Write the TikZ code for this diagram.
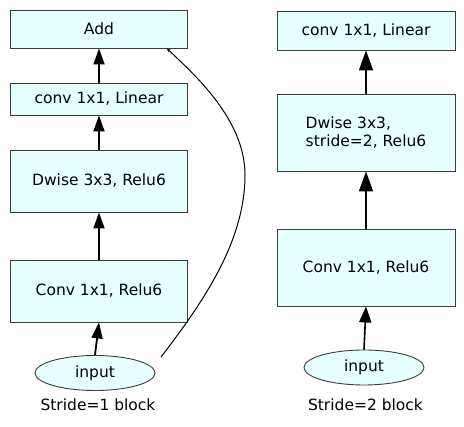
\documentclass[tikz,border=0pt]{standalone}
\usepackage{fontspec}
\setmainfont{DejaVu Sans}
\usetikzlibrary{arrows.meta,shapes.geometric}
\definecolor{boxfill}{RGB}{230,255,255}
\definecolor{boxline}{RGB}{60,60,60}
\tikzset{
  blk/.style={draw=boxline, line width=0.9pt, fill=boxfill, rectangle, inner sep=0pt,
    font=\fontsize{15.5}{18.5}\selectfont},
  inp/.style={draw=boxline, line width=0.9pt, fill=boxfill, ellipse, inner sep=0pt,
    minimum width=120pt, minimum height=35pt, font=\fontsize{15.5}{18.5}\selectfont},
  lbl/.style={anchor=base, inner sep=0pt, font=\fontsize{15.5}{18.5}\selectfont},
  arr/.style={line width=1.8pt, -{Triangle[length=16pt,width=11pt]}},
  arrbig/.style={line width=1.8pt, -{Triangle[length=20pt,width=14pt]}},
  arrmid/.style={line width=1.6pt, -{Triangle[length=16pt,width=12pt]}},
  skip/.style={line width=1pt, -{Stealth[length=4pt,width=3.5pt]}}
}
\begin{document}
\begin{tikzpicture}[x=1pt,y=-1pt]
\useasboundingbox (0,0) rectangle (464,427);
% left block
\node[blk, minimum width=177pt, minimum height=38pt] (add) at (99,29) {Add};
\node[blk, minimum width=177pt, minimum height=32pt] (linL) at (99,99) {conv 1x1, Linear};
\node[blk, minimum width=177pt, minimum height=62pt] (dwL) at (99,181) {Dwise 3x3, Relu6};
\node[blk, minimum width=177pt, minimum height=62pt] (convL) at (99,291) {Conv 1x1, Relu6};
\node[inp] (inL) at (95,373) {input};
\node[lbl] (capL) at (98,411) {Stride=1 block};
\draw[arr] (inL.north) -- (convL.south);
\draw[arr] (convL.north) -- (dwL.south);
\draw[arr] (dwL.north) -- (linL.south);
\draw[arr] (linL.north) -- (add.south);
\coordinate (s) at (161,357);
\coordinate (m) at (245,175);
\draw[skip] (s) .. controls (205,300) and (245,240) .. (m)
  .. controls (245,120) and (195,75) .. (add.-16.7);
% right block
\node[blk, minimum width=178pt, minimum height=39pt] (linR) at (366,30.5) {conv 1x1, Linear};
\node[blk, minimum width=178pt, minimum height=77pt, align=left] (dwR) at (366,132.5) {Dwise 3x3,\\stride=2, Relu6};
\node[blk, minimum width=178pt, minimum height=77pt] (convR) at (366,267.5) {Conv 1x1, Relu6};
\node[inp] (inR) at (364,367.5) {input};
\node[lbl] (capR) at (365.5,411) {Stride=2 block};
\draw[arrmid] (inR.north) -- (convR.south);
\draw[arrbig] (convR.north) -- (dwR.south);
\draw[arrbig] (dwR.north) -- (linR.south);
\end{tikzpicture}
\end{document}
